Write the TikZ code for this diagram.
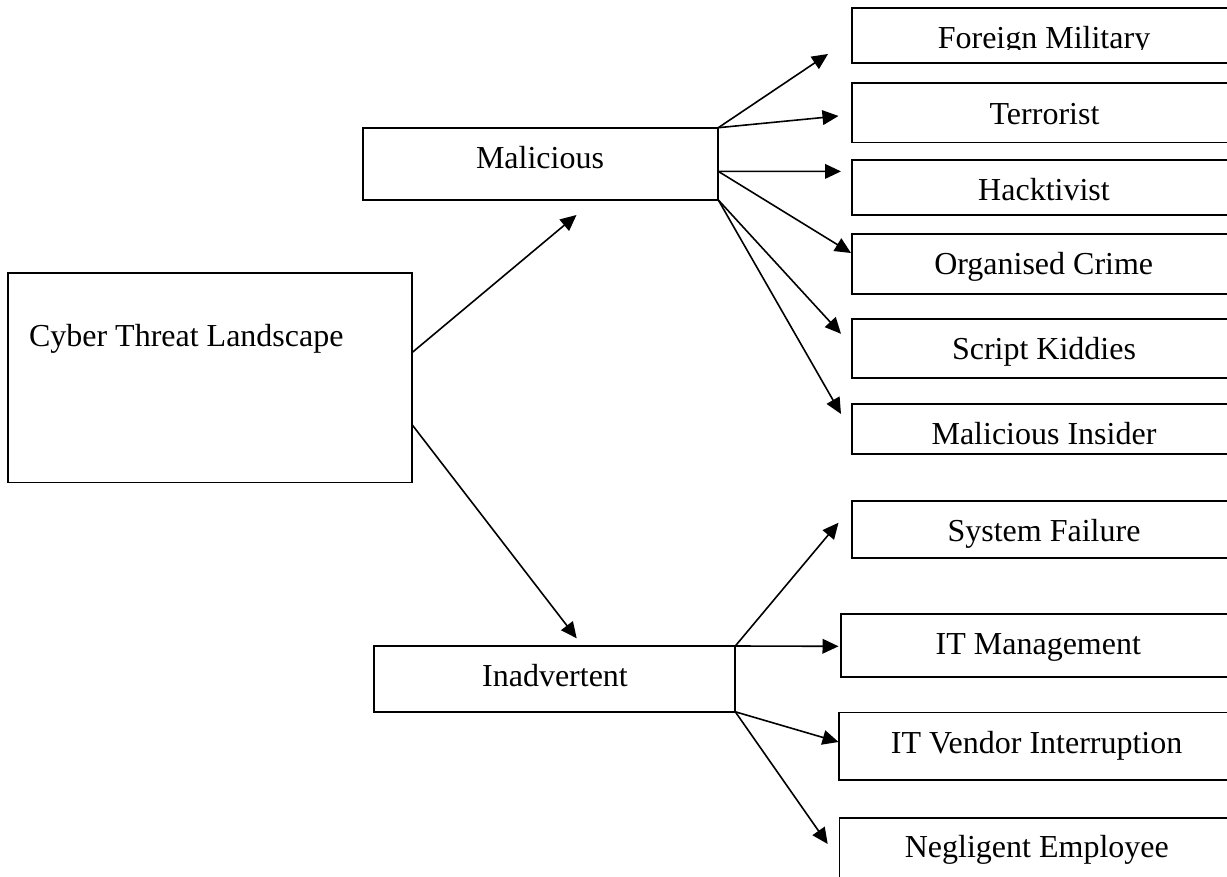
\documentclass[tikz,border=0pt]{standalone}
\usepackage{fontspec}
\setmainfont{Liberation Serif}
\usetikzlibrary{arrows.meta,fit,calc}

\begin{document}
\begin{tikzpicture}[x=0.75pt,y=-0.75pt,
  box/.style={draw, rectangle, line width=1.4pt, inner sep=0pt, outer sep=0pt},
  lbl/.style={font=\fontsize{24}{28}\selectfont, inner sep=0pt, outer sep=0pt},
  link/.style={line width=1.2pt},
  arr/.style={link, -{Triangle[length=12pt,width=11pt]}}]
\useasboundingbox (0,0) rectangle (1227,877);
\clip (0,0) rectangle (1227,877);

% root and the two branches
\node[box, fit={(8,272.7) (412,482.5)}] (cyber) {};
\node[box, fit={(363,127.7) (718.3,200)}] (mal) {};
\node[box, fit={(374,646) (735.3,711.8)}] (inad) {};
\node[lbl, anchor=base west] (cyber-text) at (29,346.7) {Cyber Threat Landscape};
\node[lbl, anchor=base] (mal-text) at (540,168.3) {Malicious};
\node[lbl, anchor=base] (inad-text) at (555,686.7) {Inadvertent};

% malicious actors
\node[box, fit={(852,8.4) (1236,63)}] (fm) {};
\node[box, fit={(852,83) (1236,142.5)}] (ter) {};
\node[box, fit={(852,160) (1236,215)}] (hack) {};
\node[box, fit={(852,233.6) (1236,294)}] (org) {};
\node[box, fit={(852,318.7) (1236,378)}] (kid) {};
\node[box, fit={(852,403.7) (1236,454)}] (ins) {};

% inadvertent causes
\node[box, fit={(852,500.8) (1236,558)}] (sys) {};
\node[box, fit={(841,613.7) (1236,677)}] (itm) {};
\node[box, fit={(838.8,712.5) (1236,779.7)}] (itv) {};
\node[box, fit={(839.5,817.7) (1236,900)}] (neg) {};

\begin{scope}
  \clip (852,8.4) rectangle (1236,49.5);
  \node[lbl, anchor=base] (fm-text) at (1044,48.7) {Foreign Military};
\end{scope}
\node[lbl, anchor=base] (ter-text) at (1044.5,124.4) {Terrorist};
\node[lbl, anchor=base] (hack-text) at (1044,200.7) {Hacktivist};
\node[lbl, anchor=base] (org-text) at (1043.7,274) {Organised Crime};
\node[lbl, anchor=base] (kid-text) at (1044,359) {Script Kiddies};
\node[lbl, anchor=base] (ins-text) at (1044,444.7) {Malicious Insider};
\node[lbl, anchor=base] (sys-text) at (1044,541.5) {System Failure};
\node[lbl, anchor=base] (itm-text) at (1038.3,654) {IT Management};
\node[lbl, anchor=base] (itv-text) at (1036.6,753.2) {IT Vendor Interruption};
\node[lbl, anchor=base] (neg-text) at (1036.8,857.4) {Negligent Employee};

% arrow tips stop short of their boxes
\coordinate (t-mal) at (576.5,215);
\coordinate (t-inad) at (576.7,638.3);
\coordinate (t-fm) at (828,54);
\coordinate (t-ter) at (838.5,116);
\coordinate (t-hack) at (841,171.4);
\coordinate (t-org) at (851,253);
\coordinate (t-kid) at (841,333.8);
\coordinate (t-ins) at (841,414);
\coordinate (t-sys) at (838.5,522.7);
\coordinate (t-itm) at (838.5,646.3);
\coordinate (t-itv) at (838.5,742);
\coordinate (t-neg) at (827.7,844);

% connectors
\draw[arr] ($(cyber.north east)!0.381!(cyber.south east)$) -- (t-mal);
\draw[arr] ($(cyber.north east)!0.724!(cyber.south east)$) -- (t-inad);

\draw[arr] (mal.north east) -- (t-fm);
\draw[arr] (mal.north east) -- (t-ter);
\draw[arr] ($(mal.north east)!0.604!(mal.south east)$) -- (t-hack);
\draw[arr] ($(mal.north east)!0.604!(mal.south east)$) -- (t-org);
\draw[arr] (mal.south east) -- (t-kid);
\draw[arr] (mal.south east) -- (t-ins);

\draw[arr] (inad.north east) -- (t-sys);
\draw[arr] (inad.north east) -- (t-itm);
\draw[arr] (inad.south east) -- (t-itv);
\draw[arr] (inad.south east) -- (t-neg);
\end{tikzpicture}
\end{document}
